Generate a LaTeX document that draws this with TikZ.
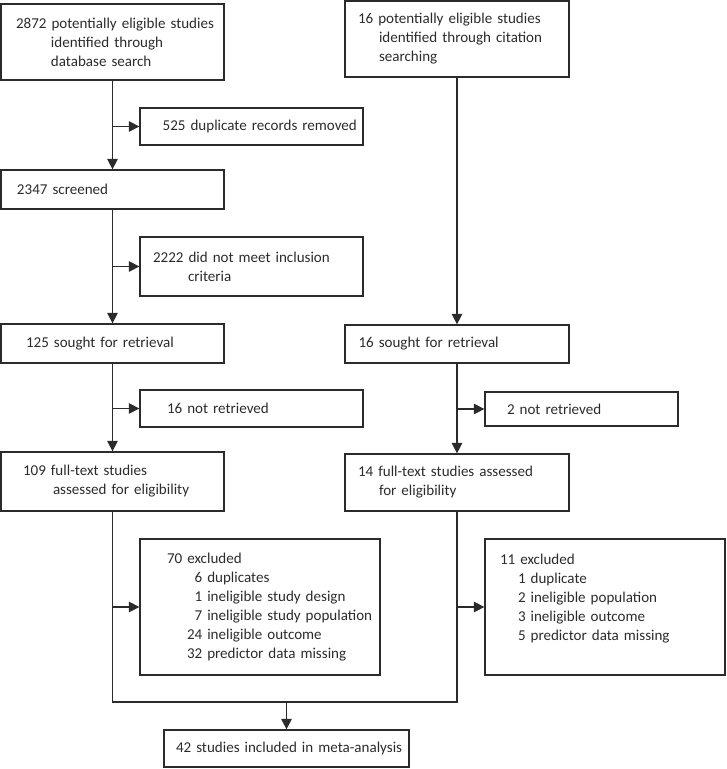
\documentclass[tikz,border=0pt]{standalone}
\usepackage{fontspec}
\setmainfont{Carlito}
\usetikzlibrary{arrows.meta}
\definecolor{inkgray}{HTML}{2B2B2B}
\newlength\pxu
\setlength\pxu{0.25mm}
\newcommand\sub[1]{\hspace*{#1\pxu}}

\begin{document}
\begin{tikzpicture}[x=0.25mm, y=-0.25mm,
    box/.style={draw=inkgray, line width=0.9pt, inner xsep=0pt, inner ysep=0pt,
                align=left, text=inkgray, font=\fontsize{10.7}{13.5}\selectfont},
    wh/.style 2 args={text width=#1*0.25mm, minimum height=#2*0.25mm},
    pad/.style={execute at begin node={\leftskip=#1\pxu}},
    arr/.style={-{Triangle[length=2.6mm, width=2.6mm]}, line width=0.9pt, draw=inkgray},
    link/.style={line width=0.9pt, draw=inkgray},
]
\useasboundingbox (0,0) rectangle (726,769);

% left column: database search
\node[box, wh={223}{76}, pad=15] (db) at (112.5,42)
    {2872 potentially eligible studies\\\sub{35}identified through\\\sub{35}database search};
\node[box, wh={223}{37}, pad=22.7] (dup) at (251.5,126.5) {525 duplicate records removed};
\node[box, wh={223}{39}, pad=16] (scr) at (112.5,189.5) {2347 screened};
\node[box, wh={223}{59}, pad=13] (incl) at (251.5,266.5)
    {2222 did not meet inclusion\\\sub{35}criteria};
\node[box, wh={223}{39}, pad=25] (srtL) at (112.5,343.5) {125 sought for retrieval};
\node[box, wh={223}{37}, pad=27] (nrL) at (251.5,408.5) {16 not retrieved};
\node[box, wh={223}{59}, pad=22] (ftL) at (112.5,481.5)
    {109 full-text studies\\\sub{30}assessed for eligibility};
\node[box, wh={240}{136}, pad=27] (exL) at (260,607)
    {70 excluded\\
     \sub{20}\phantom{0}6 duplicates\\
     \sub{20}\phantom{0}1 ineligible study design\\
     \sub{20}\phantom{0}7 ineligible study population\\
     \sub{20}24 ineligible outcome\\
     \sub{20}32 predictor data missing};

% right column: citation searching
\node[box, wh={224}{76}, pad=13] (cit) at (457,39)
    {16 potentially eligible studies\\\sub{21}identified through citation\\\sub{21}searching};
\node[box, wh={224}{38}, pad=13.5] (srtR) at (457,344) {16 sought for retrieval};
\node[box, wh={193}{34}, pad=22] (nrR) at (581.5,409) {2 not retrieved};
\node[box, wh={224}{57}, pad=13] (ftR) at (457,482.5)
    {14 full-text studies assessed\\\sub{21}for eligibility};
\node[box, wh={240}{136}, pad=15] (exR) at (605,607)
    {11 excluded\\
     \sub{18}1 duplicate\\
     \sub{18}2 ineligible population\\
     \sub{18}3 ineligible outcome\\
     \sub{18}5 predictor data missing\\\mbox{}};

% result
\node[box, wh={245}{37}, pad=12] (fin) at (286.5,748.5) {42 studies included in meta-analysis};
\coordinate (mrg) at (286.5,702);

\draw[arr] (db) -- (scr);
\draw[arr] (db.south |- dup.west) -- (dup.west);
\draw[arr] (scr) -- (srtL);
\draw[arr] (scr.south |- incl.west) -- (incl.west);
\draw[arr] (srtL) -- (ftL);
\draw[arr] (srtL.south |- nrL.west) -- (nrL.west);
\draw[arr] (cit) -- (srtR);
\draw[arr] (srtR) -- (ftR);
\draw[arr] (srtR.south |- nrR.west) -- (nrR.west);
\draw[link] (ftL.south) |- (mrg) -| (ftR.south);
\draw[arr] (ftL.south |- exL.west) -- (exL.west);
\draw[arr] (ftR.south |- exR.west) -- (exR.west);
\draw[arr] (mrg) -- (fin);
\end{tikzpicture}
\end{document}
